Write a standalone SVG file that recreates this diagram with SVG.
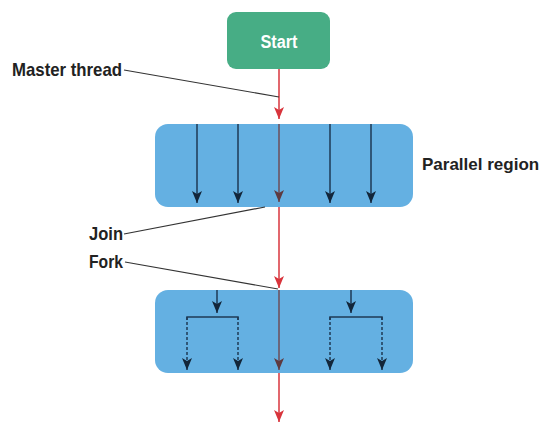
<svg xmlns="http://www.w3.org/2000/svg" width="543" height="426" viewBox="0 0 543 426">
<style>
.lbl{font-family:"Liberation Sans",Arial,sans-serif;font-weight:bold;fill:#222;}
.region{fill:#64B0E2;}
.red{stroke:#D8343C;stroke-width:1.5;fill:none;}
.inred{stroke:#6E4E58;stroke-width:1.5;fill:none;}
.thr{stroke:#1E3A55;stroke-width:1.5;fill:none;}
.dash{stroke:#1E3A55;stroke-width:1.5;fill:none;stroke-dasharray:3 2;}
.lead{stroke:#333;stroke-width:1.2;fill:none;}
</style>
<defs>
<marker id="ar" viewBox="0 0 10 12" refX="5" refY="12" markerWidth="10" markerHeight="12" markerUnits="userSpaceOnUse">
<path d="M0,0 L5,3 L10,0 L5,12 Z" fill="#D8343C"/>
</marker>
<marker id="ab" viewBox="0 0 10 12" refX="5" refY="12" markerWidth="10" markerHeight="12" markerUnits="userSpaceOnUse">
<path d="M0,0 L5,3 L10,0 L5,12 Z" fill="#13263A"/>
</marker>
<marker id="abr" viewBox="0 0 10 12" refX="5" refY="12" markerWidth="10" markerHeight="12" markerUnits="userSpaceOnUse">
<path d="M0,0 L5,3 L10,0 L5,12 Z" fill="#5E3A40"/>
</marker>
</defs>

<g id="start">
<rect x="227" y="12" width="103" height="57" rx="9" fill="#47AD85"/>
<text x="279" y="48" text-anchor="middle" font-family="Liberation Sans,Arial,sans-serif" font-weight="bold" font-size="18" fill="#fff" textLength="37" lengthAdjust="spacingAndGlyphs">Start</text>
</g>

<g id="region1">
<rect class="region" x="155" y="124" width="258" height="83" rx="13"/>
</g>
<g id="region2">
<rect class="region" x="155" y="290" width="258" height="83" rx="13"/>
</g>

<g id="labels">
<text class="lbl" x="12" y="76" font-size="19" textLength="110" lengthAdjust="spacingAndGlyphs">Master thread</text>
<text class="lbl" x="422" y="170" font-size="17">Parallel region</text>
<text class="lbl" x="89" y="240" font-size="18" textLength="34" lengthAdjust="spacingAndGlyphs">Join</text>
<text class="lbl" x="89" y="268" font-size="18" textLength="34" lengthAdjust="spacingAndGlyphs">Fork</text>
</g>

<g id="connectors">
<line class="red" x1="279" y1="69" x2="279" y2="119" marker-end="url(#ar)"/>
<line class="inred" x1="279" y1="124" x2="279" y2="202" marker-end="url(#abr)"/>
<line class="red" x1="279" y1="207" x2="279" y2="288" marker-end="url(#ar)"/>
<line class="inred" x1="279" y1="290" x2="279" y2="370" marker-end="url(#abr)"/>
<line class="red" x1="279" y1="373" x2="279" y2="422" marker-end="url(#ar)"/>
<line class="thr" x1="197" y1="124" x2="197" y2="203" marker-end="url(#ab)"/>
<line class="thr" x1="238" y1="124" x2="238" y2="203" marker-end="url(#ab)"/>
<line class="thr" x1="330" y1="124" x2="330" y2="203" marker-end="url(#ab)"/>
<line class="thr" x1="371" y1="124" x2="371" y2="203" marker-end="url(#ab)"/>
<line class="thr" x1="217" y1="290" x2="217" y2="313" marker-end="url(#ab)"/>
<polyline class="thr" points="187,320 187,317 238,317 238,320"/>
<line class="dash" x1="187" y1="317" x2="187" y2="370" marker-end="url(#ab)"/>
<line class="dash" x1="238" y1="317" x2="238" y2="370" marker-end="url(#ab)"/>
<line class="thr" x1="351" y1="290" x2="351" y2="313" marker-end="url(#ab)"/>
<polyline class="thr" points="330,320 330,317 382,317 382,320"/>
<line class="dash" x1="330" y1="317" x2="330" y2="370" marker-end="url(#ab)"/>
<line class="dash" x1="382" y1="317" x2="382" y2="370" marker-end="url(#ab)"/>
<line class="lead" x1="124" y1="70" x2="279" y2="97"/>
<line class="lead" x1="124" y1="234" x2="265" y2="207"/>
<line class="lead" x1="125" y1="262" x2="278" y2="289"/>
</g>
</svg>
